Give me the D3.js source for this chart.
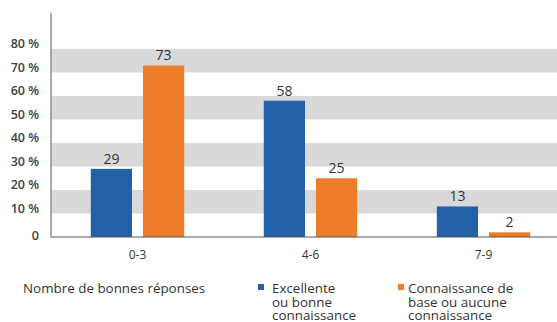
<!DOCTYPE html>
<html>
<head>
<meta charset="utf-8">
<script src="https://cdn.jsdelivr.net/npm/d3@7"></script>
<style>
  html, body { margin: 0; padding: 0; background: #fff; }
  svg { display: block; font-family: "Open Sans", sans-serif; }
</style>
</head>
<body>
<svg id="chart" width="557" height="322"></svg>
<script>
// Share of respondents by number of correct answers, per knowledge level
const categories = ["0-3", "4-6", "7-9"];
const seriesNames = ["Excellente ou bonne connaissance", "Connaissance de base ou aucune connaissance"];
const excellente = [29, 58, 13];
const base = [73, 25, 2];
const yTicks = [0, 10, 20, 30, 40, 50, 60, 70, 80];
const axisTitle = "Nombre de bonnes réponses";
const legendLines = [["Excellente", "ou bonne", "connaissance"], ["Connaissance de", "base ou aucune", "connaissance"]];
const colors = ["#2360a8", "#ee7d2b"];

const svg = d3.select("#chart");
const plotLeft = 51, plotRight = 570, plotTop = 13, plotBottom = 237;

const y = d3.scaleLinear().domain([0, 80]).range([plotBottom, 49]);
const x0 = d3.scaleBand().domain(categories).range([plotLeft, plotRight])
  .paddingInner(0.46).paddingOuter(0.23);
const x1 = d3.scaleBand().domain([0, 1]).range([0, x0.bandwidth()]).paddingInner(0.21);

// alternating grey bands (10-20, 30-40, 50-60, 70-80)
const bands = [10, 30, 50, 70];
svg.append("g").selectAll("rect").data(bands).join("rect")
  .attr("x", plotLeft).attr("width", 557 - plotLeft)
  .attr("y", d => y(d + 10)).attr("height", d => y(d) - y(d + 10))
  .attr("fill", "#d9d9d9");

// y axis tick labels
const yAxis = d3.axisLeft(y).tickValues(yTicks)
  .tickFormat(d => d === 0 ? "0" : d + " %").tickSize(0).tickPadding(12);
const yg = svg.append("g").attr("transform", `translate(${plotLeft},0)`).call(yAxis);
yg.select(".domain").remove();
yg.selectAll("text").attr("font-size", 12.5).attr("fill", "#404040")
  .attr("font-weight", 600).attr("font-family", "Open Sans, sans-serif")
  .attr("dy", d => d === 0 ? "0.2em" : "-0.1em");

// bars
const data = categories.map((c, i) => ({ cat: c, vals: [excellente[i], base[i]] }));
const groups = svg.append("g").selectAll("g").data(data).join("g")
  .attr("transform", d => `translate(${x0(d.cat)},0)`);
groups.selectAll("rect").data(d => d.vals.map((v, k) => ({ v, k }))).join("rect")
  .attr("x", d => x1(d.k)).attr("width", x1.bandwidth())
  .attr("y", d => y(d.v)).attr("height", d => plotBottom - y(d.v))
  .attr("fill", d => colors[d.k]);
groups.selectAll("text").data(d => d.vals.map((v, k) => ({ v, k }))).join("text")
  .attr("x", d => x1(d.k) + x1.bandwidth() / 2).attr("y", d => y(d.v) - 5)
  .attr("text-anchor", "middle").attr("font-size", 14).attr("fill", "#333")
  .text(d => d.v);

// axis lines
svg.append("line").attr("x1", plotLeft).attr("x2", plotLeft).attr("y1", plotTop).attr("y2", plotBottom)
  .attr("stroke", "#8c8c8c").attr("stroke-width", 1.5);
svg.append("line").attr("x1", plotLeft).attr("x2", 557).attr("y1", plotBottom).attr("y2", plotBottom)
  .attr("stroke", "#555").attr("stroke-width", 1.2);

// category labels
const xAxis = d3.axisBottom(x0).tickSize(0).tickPadding(13);
const xg = svg.append("g").attr("transform", `translate(0,${plotBottom})`).call(xAxis);
xg.select(".domain").remove();
xg.selectAll("text").attr("font-size", 12).attr("fill", "#333")
  .attr("font-family", "Open Sans, sans-serif");

// legend
svg.append("text").attr("x", 23).attr("y", 293).attr("font-size", 13.4)
  .attr("fill", "#333").text(axisTitle);
const legendX = [258, 398];
const textX = [272, 408];
const lg = svg.append("g").selectAll("g").data(seriesNames).join("g");
lg.append("rect").attr("x", (d, i) => legendX[i]).attr("y", 284)
  .attr("width", 6).attr("height", 6).attr("fill", (d, i) => colors[i]);
lg.append("text").attr("font-size", 13.4).attr("fill", "#333")
  .selectAll("tspan").data((d, i) => legendLines[i].map(t => ({ t, i }))).join("tspan")
  .attr("x", d => textX[d.i]).attr("y", (d, j) => 293 + j * 13.5)
  .text(d => d.t);
</script>
</body>
</html>
